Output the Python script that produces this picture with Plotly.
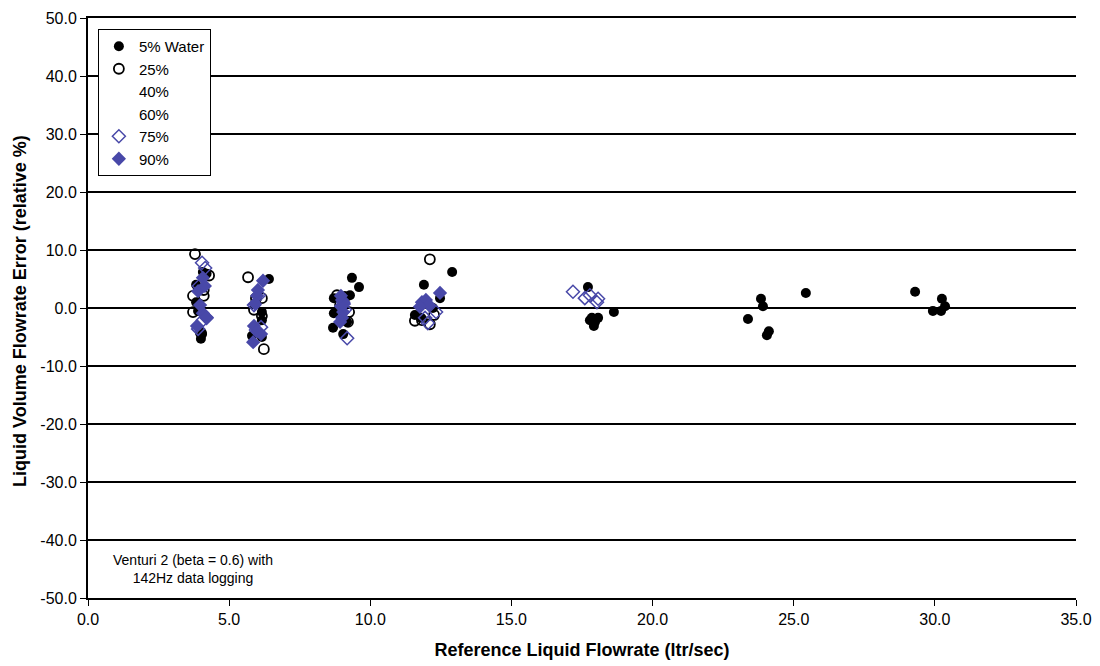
import plotly.graph_objects as go

# 5% Water (filled black circles)
w5_x = [3.83, 4.07, 4.2, 3.83, 3.9, 4.0, 4.04,
        6.41, 6.16, 6.16, 5.81, 5.95, 6.16,
        9.35, 9.6, 9.28, 8.71, 8.68, 9.04, 8.71, 9.18,
        12.9, 11.9, 12.47, 11.58, 12.22, 11.8,
        17.71, 17.85, 17.96, 18.07, 17.92, 18.63, 17.78,
        23.38, 23.84, 23.91, 24.05, 24.12, 25.43,
        29.3, 29.93, 30.22, 30.25, 30.36]
w5_y = [4.0, 6.2, 5.9, 1.0, -0.5, -5.3, -4.5,
        5.0, -2.1, -5.0, -4.8, 0.9, -0.7,
        5.2, 3.6, 2.2, 1.7, -3.4, -4.5, -0.9, -2.4,
        6.2, 4.0, 1.7, -1.2, 0.0, -1.7,
        3.6, -1.7, -2.4, -1.7, -3.1, -0.7, -2.1,
        -1.9, 1.6, 0.3, -4.7, -4.0, 2.6,
        2.8, -0.5, -0.5, 1.6, 0.3]

# 25% (open circles)
w25_x = [3.79, 3.72, 4.1, 4.29, 3.72, 4.0, 4.1,
         5.67, 6.23, 5.95, 6.16, 5.88, 6.16,
         8.82, 9.1, 9.25, 9.21, 8.93,
         12.11, 11.58, 12.11, 11.83, 12.26]
w25_y = [9.3, 2.1, 2.1, 5.6, -0.7, -4.3, 3.1,
         5.3, -7.1, 1.7, 1.7, -0.3, -1.4,
         2.2, 1.9, -0.7, -2.4, 0.5,
         8.4, -2.2, -2.8, -2.1, -1.2]

# 75% (open blue diamonds)
w75_x = [4.04, 4.15, 3.9, 4.2, 4.07, 3.93,
         6.06, 5.88, 5.95, 6.13,
         9.18, 9.04, 9.1,
         12.04, 11.94, 12.33,
         17.18, 17.6, 17.78, 18.03, 18.07]
w75_y = [7.8, 6.9, -3.6, -1.7, -2.1, 3.8,
         2.2, 0.5, -3.8, -3.3,
         -5.2, 1.0, -0.3,
         -2.6, -1.7, -0.7,
         2.8, 1.7, 2.2, 1.0, 1.6]

# 90% (filled blue diamonds)
w90_x = [4.07, 3.9, 3.86, 4.07, 4.2, 3.97, 4.14,
         6.2, 5.99, 5.88, 5.99, 5.85, 6.13, 6.02, 5.92,
         9.0, 8.96, 9.04, 9.0, 8.93, 9.07, 8.96,
         12.47, 11.83, 11.97, 12.08, 11.76]
w90_y = [5.2, 2.9, -3.1, -0.9, -1.6, 0.5, 3.8,
         4.7, 2.1, -3.1, -4.0, -5.9, -4.5, 3.1, 0.7,
         1.4, 0.3, -0.7, -1.7, -2.4, 0.7, 2.1,
         2.6, 1.0, 1.4, 0.5, 0.2]

x_ticks = [0, 5, 10, 15, 20, 25, 30, 35]
x_tick_labels = ["0.0", "5.0", "10.0", "15.0", "20.0", "25.0", "30.0", "35.0"]
y_ticks = [-50, -40, -30, -20, -10, 0, 10, 20, 30, 40, 50]
y_tick_labels = ["-50.0", "-40.0", "-30.0", "-20.0", "-10.0", "0.0",
                 "10.0", "20.0", "30.0", "40.0", "50.0"]

BLUE = "#4848a8"
FONT = "Liberation Sans, Arial, sans-serif"

fig = go.Figure()
fig.add_trace(go.Scatter(x=w5_x, y=w5_y, mode="markers", name="5% Water",
                         marker=dict(symbol="circle", size=10, color="black")))
fig.add_trace(go.Scatter(x=w25_x, y=w25_y, mode="markers", name="25%",
                         marker=dict(symbol="circle-open", size=10, color="black",
                                     line=dict(width=1.8))))
fig.add_trace(go.Scatter(x=[None], y=[None], mode="markers", name="40%",
                         marker=dict(size=9, color="rgba(0,0,0,0)")))
fig.add_trace(go.Scatter(x=[None], y=[None], mode="markers", name="60%",
                         marker=dict(size=9, color="rgba(0,0,0,0)")))
fig.add_trace(go.Scatter(x=w75_x, y=w75_y, mode="markers", name="75%",
                         marker=dict(symbol="diamond-open", size=10, color=BLUE,
                                     line=dict(width=1.5))))
fig.add_trace(go.Scatter(x=w90_x, y=w90_y, mode="markers", name="90%",
                         marker=dict(symbol="diamond", size=11, color=BLUE)))

fig.add_annotation(x=0.106, y=0.05, xref="paper", yref="paper",
                   xanchor="center", yanchor="middle",
                   text="Venturi 2 (beta = 0.6) with<br>142Hz data logging",
                   showarrow=False, align="center",
                   font=dict(family=FONT, size=14, color="black"))

# y-axis title placed as rotated text to match the original position
fig.add_annotation(x=-0.0688, y=0.495, xref="paper", yref="paper",
                   xanchor="center", yanchor="middle", textangle=-90,
                   text="<b>Liquid Volume Flowrate Error (relative %)</b>",
                   showarrow=False,
                   font=dict(family=FONT, size=18, color="black"))

fig.update_layout(
    width=1100, height=666,
    margin=dict(l=88, r=24, t=18, b=68, autoexpand=False),
    paper_bgcolor="white", plot_bgcolor="white",
    font=dict(family=FONT, size=16, color="black"),
    showlegend=True,
    legend=dict(x=0.01, y=0.981, xanchor="left", yanchor="top",
                bgcolor="white", bordercolor="black", borderwidth=1,
                font=dict(family=FONT, size=15, color="black"),
                itemwidth=30, tracegroupgap=0),
    xaxis=dict(range=[0, 35], tickvals=x_ticks, ticktext=x_tick_labels,
               showgrid=False, zeroline=False, showline=True, mirror=True,
               linecolor="black", linewidth=2, automargin=False,
               ticks="outside", ticklen=6, tickcolor="black",
               tickfont=dict(family=FONT, size=16),
               title=dict(text="<b>Reference Liquid Flowrate (ltr/sec)</b>",
                          font=dict(family=FONT, size=18), standoff=16)),
    yaxis=dict(range=[-50, 50], tickvals=y_ticks, ticktext=y_tick_labels,
               showgrid=True, gridcolor="black", gridwidth=2, zeroline=False,
               showline=True, linecolor="black", linewidth=2, automargin=False,
               ticks="outside", ticklen=6, tickcolor="black",
               tickfont=dict(family=FONT, size=16)),
)

fig.write_html("out.html")
